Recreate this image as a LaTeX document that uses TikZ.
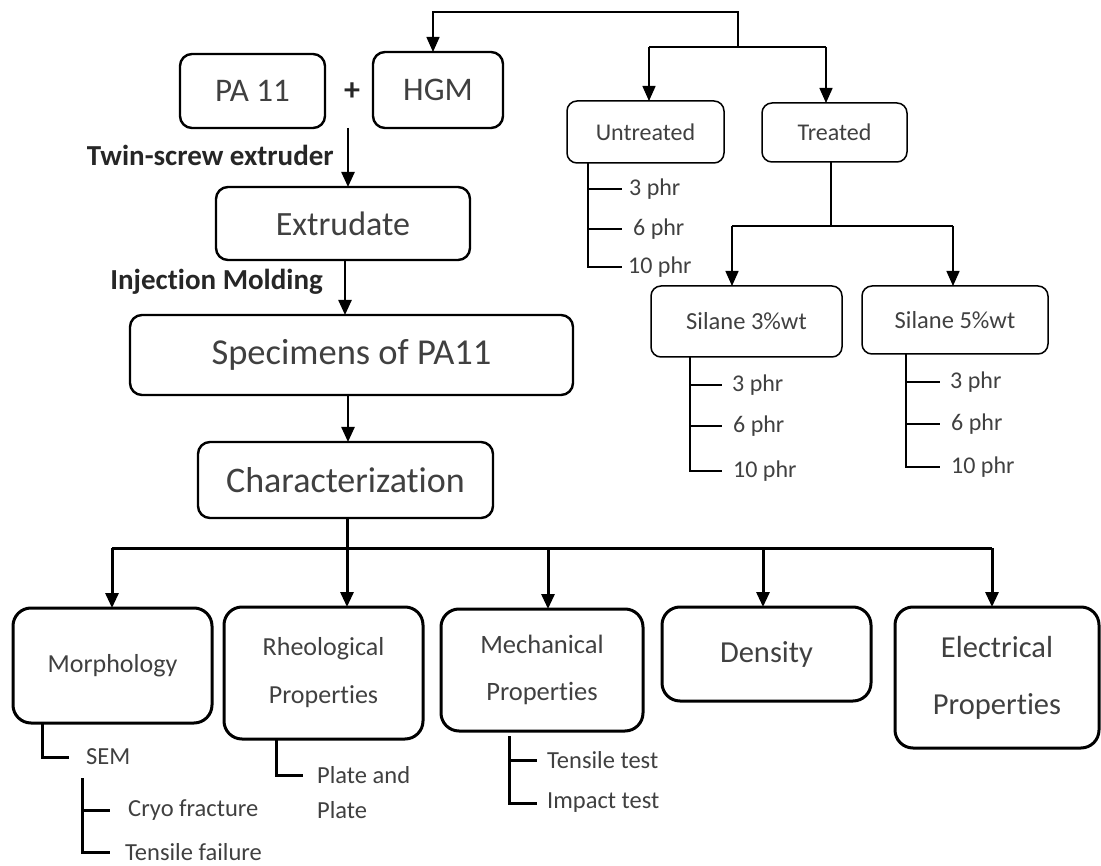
\documentclass[tikz,border=0pt]{standalone}
\usepackage{fontspec}
\setmainfont{Carlito}[RawFeature={-liga}]
\usetikzlibrary{arrows.meta}
\begin{document}
\begin{tikzpicture}[x=1pt,y=-1pt,
  box/.style={draw, line width=2.4pt, rounded corners=12pt, outer sep=0pt, inner sep=0pt, align=center, text=black!75},
  tbox/.style={box, line width=1.5pt, rounded corners=10pt},
  bbox/.style={box, line width=3pt, rounded corners=18pt},
  arr/.style={line width=2.4pt, -{Triangle[length=15pt,width=13pt]}},
  tarr/.style={line width=1.5pt, -{Triangle[length=15pt,width=13pt]}},
  barr/.style={line width=3pt, -{Triangle[length=15pt,width=13pt]}},
  conn/.style={line width=2.4pt},
  tconn/.style={line width=1.5pt},
  bconn/.style={line width=3pt},
  lbl/.style={anchor=west, inner sep=0pt, text=black!75, font=\fontsize{24}{28}\selectfont},
  blbl/.style={anchor=west, inner sep=0pt, text=black!75, font=\fontsize{24.5}{28}\selectfont},
  proc/.style={anchor=east, inner sep=0pt, text=black!85, font=\fontsize{29}{32}\selectfont\bfseries},
]
\useasboundingbox (0,0) rectangle (1101,866);

% ---- main column ----
\node[box, minimum width=145pt, minimum height=74pt, font=\fontsize{33}{36}\selectfont] (pa) at (252.5,91) {PA 11};
\node[inner sep=0pt, text=black!85, font=\fontsize{32}{34}\selectfont\bfseries] (plus) at (352,92) {+};
\node[box, minimum width=130pt, minimum height=76pt, font=\fontsize{33}{36}\selectfont] (hgm) at (438,90) {HGM};
\node[box, minimum width=254pt, minimum height=73pt, font=\fontsize{34}{38}\selectfont] (ext) at (343,223.5) {Extrudate};
\node[box, minimum width=443pt, minimum height=80pt, font=\fontsize{36.5}{40}\selectfont] (spec) at (351.5,355) {Specimens of PA11};
\node[box, minimum width=295pt, minimum height=76pt, font=\fontsize{36}{40}\selectfont] (char) at (345.5,480) {Characterization};

\node[proc] (twin) at (334,155) {Twin-screw extruder};
\node[proc] (inj) at (323,282) {Injection Molding};

\coordinate (mix) at (348,128);
\coordinate (xe) at (345,0);
\coordinate (xs) at (348,0);
\draw[arr] (mix) -- (mix |- ext.north);
\draw[arr] (ext.south -| xe) -- (spec.north -| xe);
\draw[arr] (spec.south -| xs) -- (char.north -| xs);

% ---- right tree ----
\node[tbox, minimum width=157pt, minimum height=62pt, font=\fontsize{24}{28}\selectfont] (untr) at (645.5,132) {Untreated};
\node[tbox, minimum width=145pt, minimum height=59pt, font=\fontsize{24}{28}\selectfont] (treat) at (834.5,132.5) {Treated};
\node[tbox, minimum width=191pt, minimum height=71pt, font=\fontsize{24.5}{28}\selectfont] (sil3) at (746.5,321.5) {Silane 3\%wt};
\node[tbox, minimum width=186pt, minimum height=68pt, font=\fontsize{24.5}{28}\selectfont] (sil5) at (955,320) {Silane 5\%wt};

\coordinate (tj) at (738,12);
\coordinate (tj2) at (738,47);
\coordinate (xh) at (433,0);
\draw[tarr] (tj2) -- (tj) -| (hgm.north -| xh);
\coordinate (ul) at (649,47);
\coordinate (tr) at (826,47);
\draw[tconn] (ul) -- (tr);
\draw[tarr] (ul) -- (ul |- untr.north);
\draw[tarr] (tr) -- (tr |- treat.north);

\coordinate (tt) at (831,226);
\coordinate (s3) at (732,226);
\coordinate (s5) at (953,226);
\draw[tconn] (treat.south -| tt) -- (tt);
\draw[tconn] (s3) -- (s5);
\draw[tarr] (s3) -- (s3 |- sil3.north);
\draw[tarr] (s5) -- (s5 |- sil5.north);

% untreated bracket
\coordinate (ua) at (588,0);
\node[lbl] (u3) at (629,189) {3 phr};
\node[lbl] (u6) at (633,229) {6 phr};
\node[lbl] (u10) at (628,267) {10 phr};
\draw[tconn] (untr.south -| ua) |- ([xshift=-6pt]u10.west);
\draw[tconn] (ua |- u3.west) -- ([xshift=-7pt]u3.west);
\draw[tconn] (ua |- u6.west) -- ([xshift=-11pt]u6.west);

% silane 3 bracket
\coordinate (a3) at (690,0);
\node[lbl] (a33) at (732,385) {3 phr};
\node[lbl] (a36) at (733,426) {6 phr};
\node[lbl] (a310) at (733,471) {10 phr};
\draw[tconn] (sil3.south -| a3) |- ([xshift=-11pt]a310.west);
\draw[tconn] (a3 |- a33.west) -- ([xshift=-10pt]a33.west);
\draw[tconn] (a3 |- a36.west) -- ([xshift=-11pt]a36.west);

% silane 5 bracket
\coordinate (a5) at (906,0);
\node[lbl] (a53) at (950,382) {3 phr};
\node[lbl] (a56) at (951,424) {6 phr};
\node[lbl] (a510) at (951,467) {10 phr};
\draw[tconn] (sil5.south -| a5) |- ([xshift=-11pt]a510.west);
\draw[tconn] (a5 |- a53.west) -- ([xshift=-10pt]a53.west);
\draw[tconn] (a5 |- a56.west) -- ([xshift=-11pt]a56.west);

% ---- characterization row ----
\node[bbox, minimum width=199pt, minimum height=115pt, font=\fontsize{26}{47}\selectfont] (morph) at (112.5,665.5) {Morphology};
\node[bbox, minimum width=199pt, minimum height=132pt, font=\fontsize{26}{48}\selectfont] (rheo) at (323.5,673) {Rheological\\Properties};
\node[bbox, minimum width=202pt, minimum height=122pt, font=\fontsize{26.5}{47}\selectfont] (mech) at (542,670) {Mechanical\\Properties};
\node[bbox, minimum width=209pt, minimum height=94pt, font=\fontsize{30.5}{40}\selectfont] (dens) at (766.5,654) {Density};
\node[bbox, minimum width=204pt, minimum height=141pt, font=\fontsize{30.5}{57}\selectfont] (elec) at (997,677.5) {Electrical\\Properties};

\coordinate (cb) at (347,548);
\coordinate (b1) at (112,548);
\coordinate (b2) at (347,548);
\coordinate (b3) at (548,548);
\coordinate (b4) at (763,548);
\coordinate (b5) at (992,548);
\draw[bconn] (char.south -| cb) -- (cb);
\draw[bconn] (b1) -- (b5);
\draw[barr] (b1) -- (b1 |- morph.north);
\draw[barr] (b2) -- (b2 |- rheo.north);
\draw[barr] (b3) -- (b3 |- mech.north);
\draw[barr] (b4) -- (b4 |- dens.north);
\draw[barr] (b5) -- (b5 |- elec.north);

% morphology bracket
\coordinate (ma) at (42,0);
\node[blbl] (sem) at (86,757) {SEM};
\draw[bconn] (morph.south -| ma) |- ([xshift=-17pt]sem.west);
\coordinate (ctop) at (82,778);
\node[blbl] (cryo) at (128,810) {Cryo fracture};
\node[blbl] (tfail) at (125,852) {Tensile failure};
\draw[bconn] (ctop) |- ([xshift=-15pt]tfail.west);
\draw[bconn] (ctop |- cryo.west) -- ([xshift=-18pt]cryo.west);

% rheology bracket
\coordinate (ra) at (276,0);
\node[blbl] (pl1) at (317,775) {Plate and};
\node[blbl] (pl2) at (317,810) {Plate};
\draw[bconn] (rheo.south -| ra) |- ([xshift=-14pt]pl1.west);

% mechanical bracket
\coordinate (mt) at (509,736);
\node[blbl] (tens) at (547,760) {Tensile test};
\node[blbl] (imp) at (547,803) {Impact test};
\draw[bconn] (mt) |- ([xshift=-10pt]imp.west);
\draw[bconn] (mt |- tens.west) -- ([xshift=-10pt]tens.west);
\end{tikzpicture}
\end{document}
